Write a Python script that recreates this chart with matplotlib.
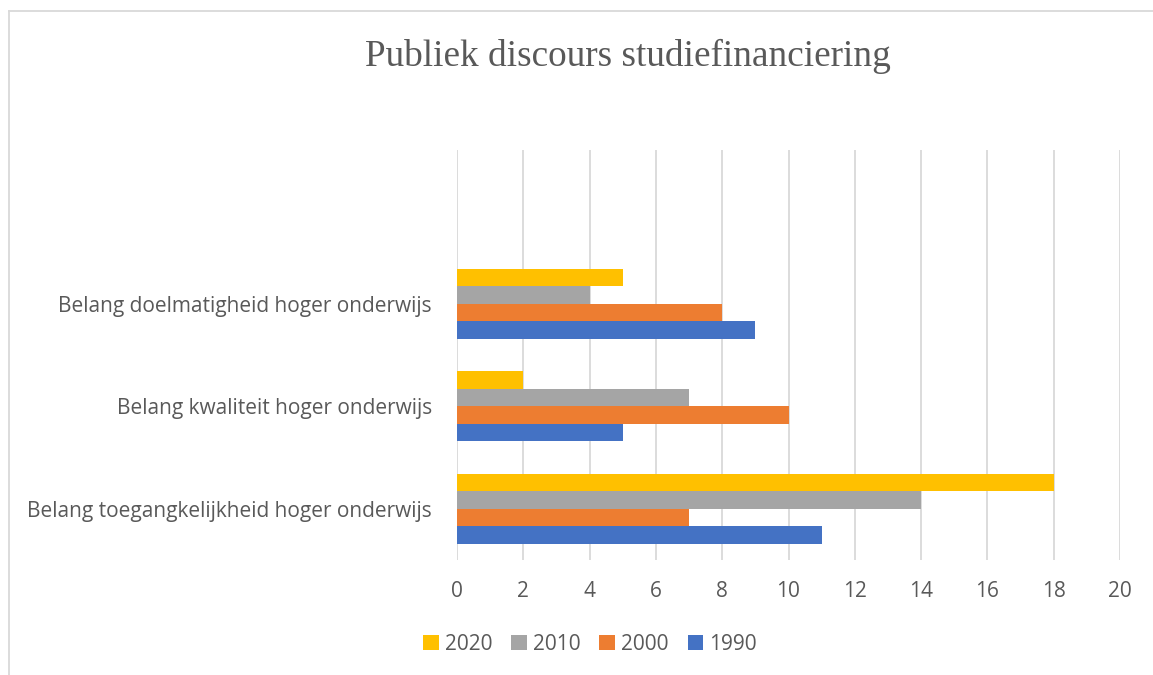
import matplotlib.pyplot as plt
import numpy as np
from matplotlib.lines import Line2D

categories = ['Belang toegangkelijkheid hoger onderwijs', 'Belang kwaliteit hoger onderwijs',
              'Belang doelmatigheid hoger onderwijs', '']
years = ['1990', '2000', '2010', '2020']
v1990 = [11, 5, 9, 0]
v2000 = [7, 10, 8, 0]
v2010 = [14, 7, 4, 0]
v2020 = [18, 2, 5, 0]
colors = ['#4472C4', '#ED7D31', '#A5A5A5', '#FFC000']

txt = '#595959'
f = plt.figure(figsize=(11.53, 6.75), dpi=100)
ax = f.add_axes([457/1153, 115/675, 663/1153, 410/675])

series = [v1990, v2000, v2010, v2020]
y = np.arange(len(categories))
h = 0.17
bars = []
for i, (vals, c) in enumerate(zip(series, colors)):
    b = ax.barh(y + (i - 1.5) * h, vals, height=h, color=c, zorder=3)
    bars.append(b)

ax.set_xlim(0, 20)
ax.set_ylim(-0.5, 3.5)
ax.set_xticks(np.arange(0, 21, 2))
ax.set_yticks(y)
ax.set_yticklabels(categories)
ax.grid(axis='x', color='#D9D9D9', linewidth=1.3, zorder=0)
for s in ax.spines.values():
    s.set_visible(False)
ax.tick_params(length=0, colors=txt, labelsize=15)
ax.tick_params(axis='x', pad=15)
ax.tick_params(axis='y', pad=18)
for lab in ax.get_xticklabels() + ax.get_yticklabels():
    lab.set_family('Open Sans')

f.text(628/1153, 1 - 56/675, 'Publiek discours studiefinanciering', ha='center', va='center',
       fontsize=26.8, color=txt, family='Liberation Serif')

leg = f.legend(bars[::-1], years[::-1], loc='center', bbox_to_anchor=(590/1153, 1 - 644/675),
               ncol=4, frameon=False, handlelength=0.75, handleheight=0.75, handletextpad=0.3,
               columnspacing=0.9, prop={'family': 'Open Sans', 'size': 15})
for t in leg.get_texts():
    t.set_color(txt)

# chart border
f.add_artist(Line2D([9/1153, 9/1153], [0, 1 - 11/675], transform=f.transFigure, color='#D9D9D9', lw=1.3))
f.add_artist(Line2D([9/1153, 1], [1 - 11/675, 1 - 11/675], transform=f.transFigure, color='#D9D9D9', lw=1.3))

f.savefig('out.png', dpi=100)
